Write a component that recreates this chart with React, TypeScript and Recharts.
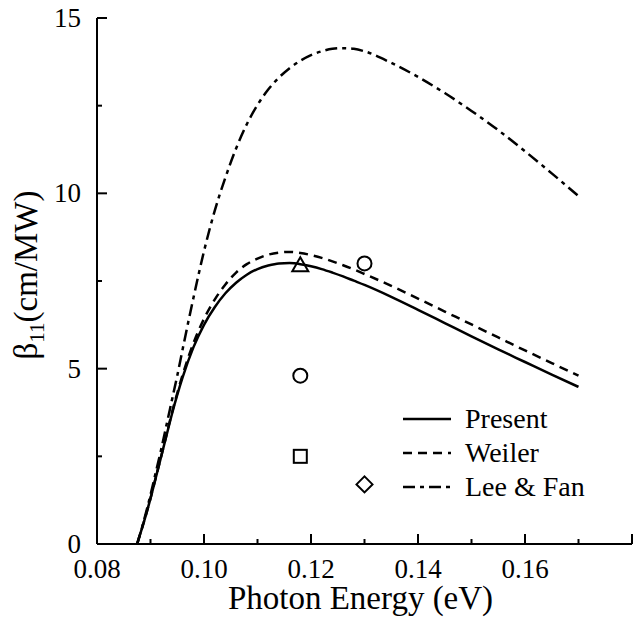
import React from "react";
import { ComposedChart, Line, Scatter, XAxis, YAxis, Legend } from "recharts";

const energy = [0.0875, 0.089, 0.09, 0.091, 0.092, 0.093, 0.094, 0.095, 0.096, 0.098, 0.1, 0.102, 0.104, 0.106, 0.108, 0.11, 0.112, 0.114, 0.116, 0.118, 0.12, 0.122, 0.124, 0.126, 0.128, 0.13, 0.135, 0.14, 0.145, 0.15, 0.155, 0.16, 0.165, 0.17];
const present = [0, 0.75, 1.3, 1.9, 2.5, 3.1, 3.7, 4.25, 4.75, 5.6, 6.25, 6.75, 7.15, 7.45, 7.68, 7.84, 7.94, 8.0, 8.01, 7.98, 7.92, 7.84, 7.74, 7.63, 7.51, 7.39, 7.05, 6.68, 6.3, 5.92, 5.55, 5.19, 4.83, 4.48];
const weiler = [0, 0.75, 1.3, 1.9, 2.5, 3.12, 3.74, 4.3, 4.82, 5.72, 6.42, 6.97, 7.4, 7.74, 7.98, 8.14, 8.25, 8.31, 8.33, 8.3, 8.24, 8.16, 8.06, 7.95, 7.83, 7.7, 7.36, 7.0, 6.63, 6.26, 5.89, 5.52, 5.16, 4.8];
const leeFan = [0, 0.8, 1.4, 2.05, 2.7, 3.4, 4.1, 4.8, 5.55, 7.0, 8.35, 9.5, 10.45, 11.28, 11.97, 12.52, 12.96, 13.3, 13.57, 13.78, 13.94, 14.05, 14.12, 14.14, 14.12, 14.05, 13.72, 13.32, 12.86, 12.35, 11.8, 11.2, 10.57, 9.92];

const triangles = [{ x: 0.118, y: 7.95 }];
const circles = [{ x: 0.118, y: 4.8 }, { x: 0.13, y: 8.0 }];
const squares = [{ x: 0.118, y: 2.5 }];
const diamonds = [{ x: 0.13, y: 1.7 }];

const xTicks = [0.08, 0.09, 0.1, 0.11, 0.12, 0.13, 0.14, 0.15, 0.16, 0.17, 0.18];
const xTickLabels = ["0.08", "0.10", "0.12", "0.14", "0.16"];
const yTicks = [0, 2.5, 5, 7.5, 10, 12.5, 15];
const yTickLabels = ["0", "5", "10", "15"];

const seriesNames = ["Present", "Weiler", "Lee & Fan"];

const FONT = "'Liberation Serif', serif";
const TS = { fontFamily: FONT };
const DASH_WEILER = "9 6";
const DASH_LEE = "12 5 4 5";

const toPts = (ys: number[]) => energy.map((x, i) => ({ x, y: ys[i] }));
const presentData = toPts(present);
const weilerData = toPts(weiler);
const leeFanData = toPts(leeFan);

const xLabel = (v: number) => xTickLabels.find((l) => Math.abs(parseFloat(l) - v) < 1e-6);
const yLabel = (v: number) => yTickLabels.find((l) => Math.abs(parseFloat(l) - v) < 1e-6);
const isMajorX = (v: number) => Math.round(v * 100) % 2 === 0;
const isMajorY = (v: number) => Math.abs(v / 5 - Math.round(v / 5)) < 1e-6;

const BottomTick = (p: any) => {
  const v = p.payload.value;
  const len = isMajorX(v) ? 10 : 5;
  const lab = xLabel(v);
  return (
    <g>
      <line x1={p.x} y1={p.y} x2={p.x} y2={p.y - len} stroke="#000" strokeWidth={2} />
      {lab ? (
        <text x={p.x} y={p.y + 34} textAnchor="middle" fontSize={27} style={TS} fill="#000">
          {lab}
        </text>
      ) : null}
    </g>
  );
};
const TopTick = (p: any) => {
  const v = p.payload.value;
  const len = isMajorX(v) ? 10 : 5;
  return <line x1={p.x} y1={p.y} x2={p.x} y2={p.y + len} stroke="#000" strokeWidth={2} />;
};
const LeftTick = (p: any) => {
  const v = p.payload.value;
  const len = isMajorY(v) ? 10 : 5;
  const lab = yLabel(v);
  return (
    <g>
      <line x1={p.x} y1={p.y} x2={p.x + len} y2={p.y} stroke="#000" strokeWidth={2} />
      {lab ? (
        <text x={p.x - 16} y={p.y + 9} textAnchor="end" fontSize={27} style={TS} fill="#000">
          {lab}
        </text>
      ) : null}
    </g>
  );
};
const RightTick = (p: any) => {
  const v = p.payload.value;
  const len = isMajorY(v) ? 10 : 5;
  return <line x1={p.x} y1={p.y} x2={p.x - len} y2={p.y} stroke="#000" strokeWidth={2} />;
};

const TriangleShape = (p: any) => {
  const { cx, cy } = p;
  return <path d={`M${cx},${cy - 8} L${cx + 8},${cy + 6} L${cx - 8},${cy + 6} Z`} fill="none" stroke="#000" strokeWidth={2} />;
};
const CircleShape = (p: any) => <circle cx={p.cx} cy={p.cy} r={7} fill="none" stroke="#000" strokeWidth={2} />;
const SquareShape = (p: any) => <rect x={p.cx - 6.5} y={p.cy - 6.5} width={13} height={13} fill="none" stroke="#000" strokeWidth={2} />;
const DiamondShape = (p: any) => {
  const { cx, cy } = p;
  return <path d={`M${cx},${cy - 8} L${cx + 8},${cy} L${cx},${cy + 8} L${cx - 8},${cy} Z`} fill="none" stroke="#000" strokeWidth={2} />;
};

const YTitle = (p: any) => {
  const vb = p.viewBox || { x: 0, y: 10, width: 89, height: 526 };
  const cx = vb.x + 29;
  const cy = vb.y + vb.height / 2 - 6;
  return (
    <text x={cx} y={cy} transform={`rotate(-90, ${cx}, ${cy})`} textAnchor="middle" fontSize={33} style={TS} fill="#000">
      <tspan>β</tspan>
      <tspan fontSize={21} dy={7}>11</tspan>
      <tspan dy={-7}>(cm/MW)</tspan>
    </text>
  );
};
const XTitle = (p: any) => {
  const vb = p.viewBox || { x: 89, y: 536, width: 535, height: 76 };
  return (
    <text x={vb.x + vb.width / 2 - 4} y={vb.y + 65} textAnchor="middle" fontSize={33} style={TS} fill="#000">
      Photon Energy (eV)
    </text>
  );
};

const LegendContent = () => {
  const dashes = [undefined, DASH_WEILER, DASH_LEE];
  return (
    <svg width={230} height={110}>
      {seriesNames.map((n, i) => {
        const y = 21 + i * 34;
        return (
          <g key={n}>
            <line x1={5} x2={53} y1={y} y2={y} stroke="#000" strokeWidth={2.5} strokeDasharray={dashes[i]} />
            <text x={67} y={y + 9} fontSize={28} style={TS} fill="#000">{n}</text>
          </g>
        );
      })}
    </svg>
  );
};

export default function App() {
  return (
    <ComposedChart width={630} height={612} margin={{ top: 10, right: 6, left: 0, bottom: 0 }} style={TS}>
      <XAxis
        xAxisId={0}
        dataKey="x"
        type="number"
        domain={[0.08, 0.18]}
        ticks={xTicks}
        interval={0}
        allowDataOverflow
        height={76}
        tickSize={0}
        tickMargin={0}
        tick={<BottomTick />}
        axisLine={{ stroke: "#000", strokeWidth: 2 }}
        label={<XTitle />}
      />
      <XAxis
        xAxisId="top"
        orientation="top"
        dataKey="x"
        type="number"
        domain={[0.08, 0.18]}
        ticks={xTicks}
        interval={0}
        allowDataOverflow
        height={0}
        tickSize={0}
        tickMargin={0}
        tick={<TopTick />}
        axisLine={{ stroke: "#000", strokeWidth: 2 }}
      />
      <YAxis
        yAxisId={0}
        dataKey="y"
        type="number"
        domain={[0, 15]}
        ticks={yTicks}
        interval={0}
        allowDataOverflow
        width={89}
        tickSize={0}
        tickMargin={0}
        tick={<LeftTick />}
        axisLine={{ stroke: "#000", strokeWidth: 2 }}
        label={<YTitle />}
      />
      <YAxis
        yAxisId="right"
        orientation="right"
        dataKey="y"
        type="number"
        domain={[0, 15]}
        ticks={yTicks}
        interval={0}
        allowDataOverflow
        width={0}
        tickSize={0}
        tickMargin={0}
        tick={<RightTick />}
        axisLine={{ stroke: "#000", strokeWidth: 2 }}
      />
      <Line data={presentData} dataKey="y" name="Present" type="monotone" stroke="#000" strokeWidth={2.5} dot={false} isAnimationActive={false} />
      <Line data={weilerData} dataKey="y" name="Weiler" type="monotone" stroke="#000" strokeWidth={2.5} strokeDasharray={DASH_WEILER} dot={false} isAnimationActive={false} />
      <Line data={leeFanData} dataKey="y" name="Lee & Fan" type="monotone" stroke="#000" strokeWidth={2.5} strokeDasharray={DASH_LEE} dot={false} isAnimationActive={false} />
      <Scatter data={triangles} dataKey="y" shape={<TriangleShape />} isAnimationActive={false} legendType="none" />
      <Scatter data={circles} dataKey="y" shape={<CircleShape />} isAnimationActive={false} legendType="none" />
      <Scatter data={squares} dataKey="y" shape={<SquareShape />} isAnimationActive={false} legendType="none" />
      <Scatter data={diamonds} dataKey="y" shape={<DiamondShape />} isAnimationActive={false} legendType="none" />
      <Legend
        layout="vertical"
        align="center"
        verticalAlign="middle"
        content={<LegendContent />}
        wrapperStyle={{ left: 390, top: 390, width: 230, height: 110 }}
      />
    </ComposedChart>
  );
}
